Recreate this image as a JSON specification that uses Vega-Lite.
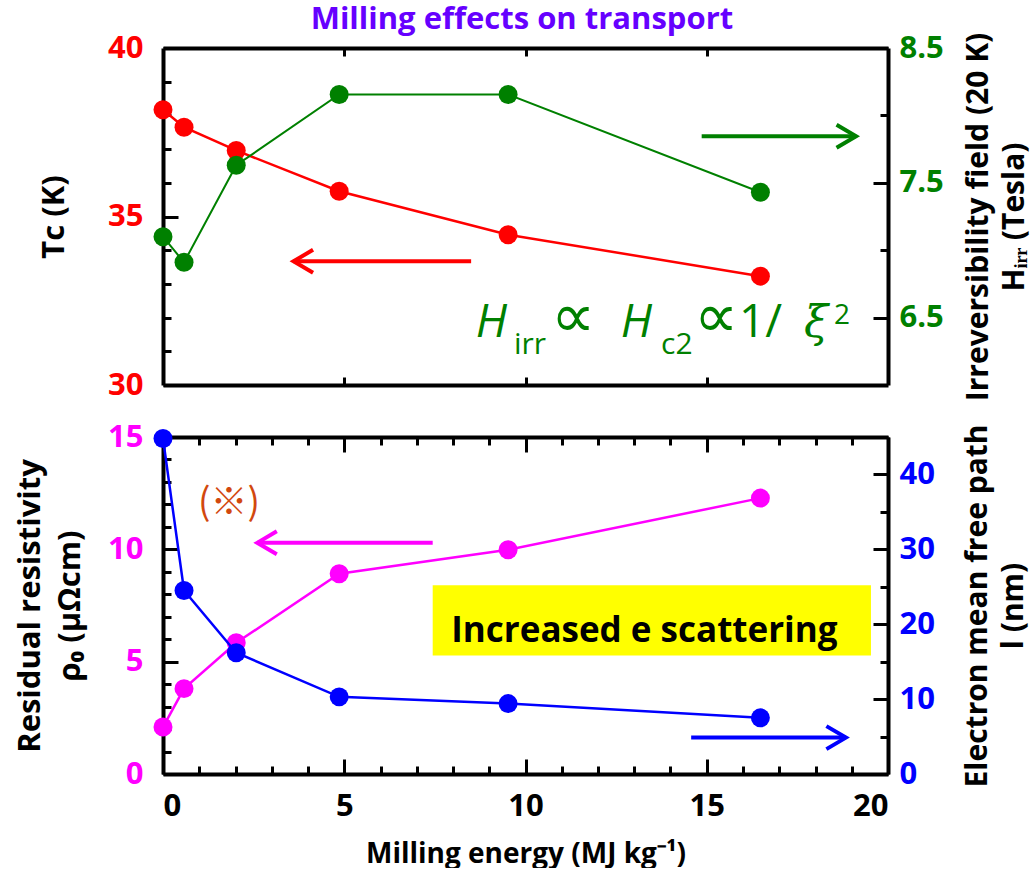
{
  "$schema": "https://vega.github.io/schema/vega-lite/v6.json",
  "padding": {"left": 14, "top": 4, "right": 0, "bottom": 0},
  "title": {"text": "Milling effects on transport", "font": "Open Sans", "fontSize": 31, "fontWeight": "bold", "color": "#6600FF", "anchor": "middle", "offset": -4},
  "spacing": 20,
  "config": {
    "view": {"stroke": null},
    "axis": {"grid": false, "domainColor": "#000000", "domainWidth": 4, "tickColor": "#000000", "tickWidth": 3, "labelFont": "Open Sans", "labelFontSize": 31, "labelFontWeight": "bold", "titleFont": "Open Sans", "titleFontSize": 31, "titleFontWeight": "bold", "titleColor": "#000000", "labelColor": "#000000"}
  },
  "datasets": {
    "top": [
      {"E": 0, "Tc": 38.17, "Hirr": 7.10},
      {"E": 0.58, "Tc": 37.65, "Hirr": 6.91},
      {"E": 2.02, "Tc": 36.96, "Hirr": 7.63},
      {"E": 4.86, "Tc": 35.75, "Hirr": 8.155},
      {"E": 9.52, "Tc": 34.46, "Hirr": 8.155},
      {"E": 16.48, "Tc": 33.23, "Hirr": 7.43}
    ],
    "bottom": [
      {"E": 0, "rho": 2.09, "l": 44.8},
      {"E": 0.58, "rho": 3.80, "l": 24.5},
      {"E": 2.02, "rho": 5.84, "l": 16.2},
      {"E": 4.86, "rho": 8.91, "l": 10.3},
      {"E": 9.52, "rho": 9.98, "l": 9.4},
      {"E": 16.48, "rho": 12.28, "l": 7.5}
    ],
    "arrows": [
      {"name": "Tc", "E": 8.5, "tip": 3.6, "v": 33.67},
      {"name": "Hirr", "E": 14.86, "tip": 19.12, "v": 37.38},
      {"name": "rho", "E": 7.44, "tip": 2.6, "v": 10.29},
      {"name": "l", "E": 14.57, "tip": 18.84, "v": 1.62}
    ],
    "formula": [
      {"part": "H", "E": 8.63, "v": 31.42, "kind": "H"},
      {"part": "H", "E": 12.63, "v": 31.42, "kind": "H"},
      {"part": "irr", "E": 9.68, "v": 30.92, "kind": "sub"},
      {"part": "c2", "E": 13.74, "v": 30.92, "kind": "sub"},
      {"part": "∝", "E": 10.70, "v": 31.42, "kind": "op"},
      {"part": "∝", "E": 14.65, "v": 31.42, "kind": "op"},
      {"part": "1/", "E": 15.89, "v": 31.42, "kind": "num"},
      {"part": "ξ", "E": 17.68, "v": 31.42, "kind": "xi"},
      {"part": "2", "E": 18.51, "v": 31.81, "kind": "sup"}
    ]
  },
  "vconcat": [
    {
      "width": 725,
      "height": 337,
      "layer": [
        {
          "data": {"name": "top"},
          "mark": {"type": "line", "color": "#FF0000", "strokeWidth": 2.5},
          "encoding": {
            "x": {"field": "E", "type": "quantitative", "scale": {"domain": [0, 20], "nice": false},
              "axis": {"orient": "bottom", "values": [5, 10, 15], "labels": false, "tickSize": -8, "title": null}},
            "y": {"field": "Tc", "type": "quantitative", "scale": {"domain": [30, 40], "nice": false, "zero": false},
              "axis": {"orient": "left", "values": [30, 31, 32, 33, 34, 35, 36, 37, 38, 39, 40],
                "labelExpr": "datum.value % 5 === 0 ? datum.label : ''",
                "tickSize": {"condition": {"test": "datum.value % 5 === 0", "value": -15}, "value": -8},
                "labelPadding": 35, "labelColor": "#FF0000", "title": "Tc (K)", "titlePadding": 37}}
          }
        },
        {
          "data": {"name": "top"},
          "mark": {"type": "circle", "size": 360, "opacity": 1, "color": "#FF0000"},
          "encoding": {
            "x": {"field": "E", "type": "quantitative", "axis": null},
            "y": {"field": "Tc", "type": "quantitative", "scale": {"domain": [30, 40], "nice": false, "zero": false}, "axis": null}
          }
        },
        {
          "data": {"name": "top"},
          "mark": {"type": "line", "color": "#008000", "strokeWidth": 2},
          "encoding": {
            "x": {"field": "E", "type": "quantitative",
              "axis": {"orient": "top", "values": [5, 10, 15], "labels": false, "tickSize": -8, "title": null}},
            "y": {"field": "Hirr", "type": "quantitative", "scale": {"domain": [6, 8.5], "nice": false, "zero": false},
              "axis": {"orient": "right", "values": [6.5, 7, 7.5, 8, 8.5], "format": ".1f",
                "labelExpr": "(datum.value * 2) % 2 === 1 ? datum.label : ''",
                "tickSize": {"condition": {"test": "(datum.value * 2) % 2 === 1", "value": -15}, "value": -8},
                "labelPadding": 26, "labelColor": "#008000",
                "title": ["Irreversibility field (20 K)", "Hᵢᵣᵣ (Tesla)"], "titleAngle": 270, "titleBaseline": "top",
                "titlePadding": -16, "titleLineHeight": 36, "titleFontSize": 30}}
          }
        },
        {
          "data": {"name": "top"},
          "mark": {"type": "circle", "size": 360, "opacity": 1, "color": "#008000"},
          "encoding": {
            "x": {"field": "E", "type": "quantitative", "axis": null},
            "y": {"field": "Hirr", "type": "quantitative", "scale": {"domain": [6, 8.5], "nice": false, "zero": false}, "axis": null}
          }
        },
        {
          "data": {"name": "arrows"},
          "transform": [{"filter": "datum.name === 'Tc' || datum.name === 'Hirr'"}],
          "mark": {"type": "rule", "strokeWidth": 4},
          "encoding": {
            "x": {"field": "E", "type": "quantitative", "axis": null},
            "x2": {"field": "tip"},
            "y": {"field": "v", "type": "quantitative", "scale": {"domain": [30, 40], "nice": false, "zero": false}, "axis": null},
            "color": {"field": "name", "type": "nominal", "scale": {"domain": ["Tc", "Hirr", "rho", "l"], "range": ["#FF0000", "#008000", "#FF00FF", "#0000FF"]}, "legend": null}
          }
        },
        {
          "data": {"name": "arrows"},
          "transform": [{"filter": "datum.name === 'Tc'"}],
          "mark": {"type": "point", "shape": "M 1.7 -1 L 0 0 L 1.7 1", "size": 529, "filled": false, "strokeWidth": 4, "opacity": 1, "color": "#FF0000"},
          "encoding": {
            "x": {"field": "tip", "type": "quantitative", "axis": null},
            "y": {"field": "v", "type": "quantitative", "scale": {"domain": [30, 40], "nice": false, "zero": false}, "axis": null}
          }
        },
        {
          "data": {"name": "arrows"},
          "transform": [{"filter": "datum.name === 'Hirr'"}],
          "mark": {"type": "point", "shape": "M -1.7 -1 L 0 0 L -1.7 1", "size": 529, "filled": false, "strokeWidth": 4, "opacity": 1, "color": "#008000"},
          "encoding": {
            "x": {"field": "tip", "type": "quantitative", "axis": null},
            "y": {"field": "v", "type": "quantitative", "scale": {"domain": [30, 40], "nice": false, "zero": false}, "axis": null}
          }
        },
        {
          "data": {"name": "formula"},
          "transform": [{"filter": "datum.kind === 'H'"}],
          "mark": {"type": "text", "align": "left", "baseline": "alphabetic", "font": "Open Sans", "fontStyle": "italic", "fontSize": 46, "color": "#008000"},
          "encoding": {
            "x": {"field": "E", "type": "quantitative", "axis": null},
            "y": {"field": "v", "type": "quantitative", "scale": {"domain": [30, 40], "nice": false, "zero": false}, "axis": null},
            "text": {"field": "part"}
          }
        },
        {
          "data": {"name": "formula"},
          "transform": [{"filter": "datum.kind === 'sub'"}],
          "mark": {"type": "text", "align": "left", "baseline": "alphabetic", "font": "Open Sans", "fontSize": 30, "color": "#008000"},
          "encoding": {
            "x": {"field": "E", "type": "quantitative", "axis": null},
            "y": {"field": "v", "type": "quantitative", "scale": {"domain": [30, 40], "nice": false, "zero": false}, "axis": null},
            "text": {"field": "part"}
          }
        },
        {
          "data": {"name": "formula"},
          "transform": [{"filter": "datum.kind === 'op'"}],
          "mark": {"type": "text", "align": "left", "baseline": "alphabetic", "font": "DejaVu Sans", "fontSize": 62, "color": "#008000"},
          "encoding": {
            "x": {"field": "E", "type": "quantitative", "axis": null},
            "y": {"field": "v", "type": "quantitative", "scale": {"domain": [30, 40], "nice": false, "zero": false}, "axis": null},
            "text": {"field": "part"}
          }
        },
        {
          "data": {"name": "formula"},
          "transform": [{"filter": "datum.kind === 'num'"}],
          "mark": {"type": "text", "align": "left", "baseline": "alphabetic", "font": "Open Sans", "fontSize": 46, "color": "#008000"},
          "encoding": {
            "x": {"field": "E", "type": "quantitative", "axis": null},
            "y": {"field": "v", "type": "quantitative", "scale": {"domain": [30, 40], "nice": false, "zero": false}, "axis": null},
            "text": {"field": "part"}
          }
        },
        {
          "data": {"name": "formula"},
          "transform": [{"filter": "datum.kind === 'xi'"}],
          "mark": {"type": "text", "align": "left", "baseline": "alphabetic", "font": "DejaVu Serif", "fontStyle": "italic", "fontSize": 44, "color": "#008000"},
          "encoding": {
            "x": {"field": "E", "type": "quantitative", "axis": null},
            "y": {"field": "v", "type": "quantitative", "scale": {"domain": [30, 40], "nice": false, "zero": false}, "axis": null},
            "text": {"field": "part"}
          }
        },
        {
          "data": {"name": "formula"},
          "transform": [{"filter": "datum.kind === 'sup'"}],
          "mark": {"type": "text", "align": "left", "baseline": "alphabetic", "font": "Open Sans", "fontSize": 28, "color": "#008000"},
          "encoding": {
            "x": {"field": "E", "type": "quantitative", "axis": null},
            "y": {"field": "v", "type": "quantitative", "scale": {"domain": [30, 40], "nice": false, "zero": false}, "axis": null},
            "text": {"field": "part"}
          }
        }
      ],
      "resolve": {"scale": {"y": "independent"}, "axis": {"x": "independent", "y": "independent"}}
    },
    {
      "width": 725,
      "height": 337,
      "layer": [
        {
          "data": {"values": [{"E": 7.44, "E2": 19.53, "v": 8.40, "v2": 5.28}]},
          "mark": {"type": "rect", "color": "#FFFF00", "opacity": 1},
          "encoding": {
            "x": {"field": "E", "type": "quantitative", "scale": {"domain": [0, 20], "nice": false}, "axis": null},
            "x2": {"field": "E2"},
            "y": {"field": "v", "type": "quantitative", "scale": {"domain": [0, 15], "nice": false, "zero": false}, "axis": null},
            "y2": {"field": "v2"}
          }
        },
        {
          "data": {"values": [{"t": "Increased e scattering", "E": 13.28, "v": 5.88}]},
          "mark": {"type": "text", "align": "center", "baseline": "alphabetic", "font": "Open Sans", "fontWeight": "bold", "fontSize": 35, "color": "#000000"},
          "encoding": {
            "x": {"field": "E", "type": "quantitative", "axis": null},
            "y": {"field": "v", "type": "quantitative", "scale": {"domain": [0, 15], "nice": false, "zero": false}, "axis": null},
            "text": {"field": "t"}
          }
        },
        {
          "data": {"values": [{"t": "(※)", "E": 1.82, "v": 12.03}]},
          "mark": {"type": "text", "align": "center", "baseline": "middle", "font": "Noto Sans CJK JP", "fontSize": 37, "color": "#D2480E"},
          "encoding": {
            "x": {"field": "E", "type": "quantitative", "axis": null},
            "y": {"field": "v", "type": "quantitative", "scale": {"domain": [0, 15], "nice": false, "zero": false}, "axis": null},
            "text": {"field": "t"}
          }
        },
        {
          "data": {"name": "bottom"},
          "mark": {"type": "line", "color": "#FF00FF", "strokeWidth": 2.5},
          "encoding": {
            "x": {"field": "E", "type": "quantitative",
              "axis": {"orient": "bottom", "values": [0, 1, 2, 3, 4, 5, 6, 7, 8, 9, 10, 11, 12, 13, 14, 15, 16, 17, 18, 19, 20],
                "labelExpr": "datum.value % 5 === 0 ? datum.label : ''",
                "tickSize": {"condition": {"test": "datum.value % 5 === 0", "value": -15}, "value": -8},
                "labelPadding": 32, "labelColor": "#000000",
                "title": "Milling energy (MJ kg⁻¹)", "titlePadding": 19, "titleFontSize": 28}},
            "y": {"field": "rho", "type": "quantitative", "scale": {"domain": [0, 15], "nice": false, "zero": false},
              "axis": {"orient": "left", "values": [0, 1, 2, 3, 4, 5, 6, 7, 8, 9, 10, 11, 12, 13, 14, 15],
                "labelExpr": "datum.value % 5 === 0 ? datum.label : ''",
                "tickSize": {"condition": {"test": "datum.value % 5 === 0", "value": -15}, "value": -8},
                "labelPadding": 35, "labelColor": "#FF00FF",
                "title": ["Residual resistivity", "ρ₀ (μΩcm)"], "titlePadding": 21, "titleLineHeight": 40}}
          }
        },
        {
          "data": {"name": "bottom"},
          "mark": {"type": "circle", "size": 360, "opacity": 1, "color": "#FF00FF"},
          "encoding": {
            "x": {"field": "E", "type": "quantitative", "axis": null},
            "y": {"field": "rho", "type": "quantitative", "scale": {"domain": [0, 15], "nice": false, "zero": false}, "axis": null}
          }
        },
        {
          "data": {"name": "arrows"},
          "transform": [{"filter": "datum.name === 'rho' || datum.name === 'l'"}],
          "mark": {"type": "rule", "strokeWidth": 4},
          "encoding": {
            "x": {"field": "E", "type": "quantitative", "axis": null},
            "x2": {"field": "tip"},
            "y": {"field": "v", "type": "quantitative", "scale": {"domain": [0, 15], "nice": false, "zero": false}, "axis": null},
            "color": {"field": "name", "type": "nominal", "scale": {"domain": ["Tc", "Hirr", "rho", "l"], "range": ["#FF0000", "#008000", "#FF00FF", "#0000FF"]}, "legend": null}
          }
        },
        {
          "data": {"name": "arrows"},
          "transform": [{"filter": "datum.name === 'rho'"}],
          "mark": {"type": "point", "shape": "M 1.7 -1 L 0 0 L 1.7 1", "size": 529, "filled": false, "strokeWidth": 4, "opacity": 1, "color": "#FF00FF"},
          "encoding": {
            "x": {"field": "tip", "type": "quantitative", "axis": null},
            "y": {"field": "v", "type": "quantitative", "scale": {"domain": [0, 15], "nice": false, "zero": false}, "axis": null}
          }
        },
        {
          "data": {"name": "arrows"},
          "transform": [{"filter": "datum.name === 'l'"}],
          "mark": {"type": "point", "shape": "M -1.7 -1 L 0 0 L -1.7 1", "size": 529, "filled": false, "strokeWidth": 4, "opacity": 1, "color": "#0000FF"},
          "encoding": {
            "x": {"field": "tip", "type": "quantitative", "axis": null},
            "y": {"field": "v", "type": "quantitative", "scale": {"domain": [0, 15], "nice": false, "zero": false}, "axis": null}
          }
        },
        {
          "data": {"name": "bottom"},
          "mark": {"type": "line", "color": "#0000FF", "strokeWidth": 2.5},
          "encoding": {
            "x": {"field": "E", "type": "quantitative",
              "axis": {"orient": "top", "values": [0, 1, 2, 3, 4, 5, 6, 7, 8, 9, 10, 11, 12, 13, 14, 15, 16, 17, 18, 19, 20], "labels": false,
                "tickSize": {"condition": {"test": "datum.value % 5 === 0", "value": -15}, "value": -8}, "title": null}},
            "y": {"field": "l", "type": "quantitative", "scale": {"domain": [0, 45], "nice": false, "zero": false},
              "axis": {"orient": "right", "values": [0, 5, 10, 15, 20, 25, 30, 35, 40, 45],
                "labelExpr": "datum.value % 10 === 0 && datum.value < 45 ? datum.label : ''",
                "tickSize": {"condition": {"test": "datum.value % 10 === 0", "value": -15}, "value": -8},
                "labelPadding": 26, "labelColor": "#0000FF",
                "title": ["Electron mean free path", "l (nm)"], "titleAngle": 270, "titleBaseline": "top",
                "titlePadding": -8, "titleLineHeight": 36, "titleFontSize": 30}}
          }
        },
        {
          "data": {"name": "bottom"},
          "mark": {"type": "circle", "size": 360, "opacity": 1, "color": "#0000FF"},
          "encoding": {
            "x": {"field": "E", "type": "quantitative", "axis": null},
            "y": {"field": "l", "type": "quantitative", "scale": {"domain": [0, 45], "nice": false, "zero": false}, "axis": null}
          }
        }
      ],
      "resolve": {"scale": {"y": "independent"}, "axis": {"x": "independent", "y": "independent"}}
    }
  ]
}
